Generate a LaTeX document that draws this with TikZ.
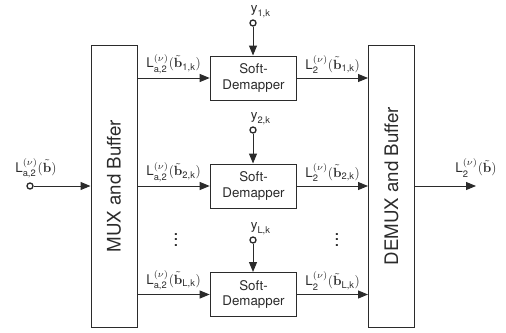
\documentclass[tikz,border=0pt]{standalone}
\usepackage{amsmath}
\usepackage[no-math]{fontspec}
\setmainfont{TeX Gyre Heros}
\setsansfont{TeX Gyre Heros}
\usepackage{tikz}
\usetikzlibrary{arrows.meta, positioning, calc}
\definecolor{linegray}{HTML}{2B2B2B}
\newcommand{\Lin}[1]{\textsf{L}^{(\nu)}_{\textsf{a,2}}(#1)}
\newcommand{\Lout}[1]{\textsf{L}^{(\nu)}_{\textsf{2}}(#1)}
\newcommand{\btil}[1]{\tilde{\mathbf{b}}_{\textsf{#1}}}
\newcommand{\yk}[1]{\textsf{y}_{\textsf{#1,k}}}

\begin{document}
\begin{tikzpicture}[x=0.75pt, y=-0.75pt, >={Triangle[length=7.5pt, width=6pt]},
    color=linegray, line width=0.75pt,
    demap/.style={draw, minimum width=65pt, minimum height=33pt, inner sep=0pt,
        align=center, font=\fontsize{10}{11.5}\selectfont},
    buffer/.style={draw, minimum width=34.5pt, minimum height=211.5pt, inner sep=0pt},
    port/.style={circle, draw, fill=white, inner sep=0pt, minimum size=4.5pt, line width=1pt},
    lbl/.style={font=\fontsize{10}{11}\selectfont, inner sep=1pt}]
    \useasboundingbox (0,0) rectangle (506,332);

    % MUX and DEMUX
    \node[buffer] (mux) at (114,186) {};
    \node[rotate=90, font=\fontsize{14}{16}\selectfont] (muxtext) at (mux.center) {MUX and Buffer};
    \node[buffer] (demux) at (391.5,186) {};
    \node[rotate=90, font=\fontsize{14}{16}\selectfont] (demuxtext) at (demux.center) {DEMUX and Buffer};

    % Soft-Demappers
    \node[demap] (sd1) at (253.5,78) {Soft-\\Demapper};
    \node[demap] (sd2) at (253.5,186) {Soft-\\Demapper};
    \node[demap] (sd3) at (253.5,294.5) {Soft-\\Demapper};

    % Channel observations
    \node[port] (y1) at (253,23) {};
    \node[port] (y2) at (253,130) {};
    \node[port] (y3) at (253,240) {};
    \node[lbl, above=0pt of y1, anchor=south west, xshift=-3pt] (y1t) {$\yk{1}$};
    \node[lbl, above=0pt of y2, anchor=south west, xshift=-3pt] (y2t) {$\yk{2}$};
    \node[lbl, above=0pt of y3, anchor=south west, xshift=-3pt] (y3t) {$\yk{L}$};
    \draw[->] (y1) -- (y1 |- sd1.north);
    \draw[->] (y2) -- (y2 |- sd2.north);
    \draw[->] (y3) -- (y3 |- sd3.north);

    % Input and output
    \node[port] (in) at (30,186) {};
    \node[lbl] (intext) at (36,168) {$\Lin{\tilde{\mathbf{b}}}$};
    \draw[->] (in) -- (in -| mux.west);
    \coordinate (out) at (476,186);
    \node[lbl] (outtext) at (476,168) {$\Lout{\tilde{\mathbf{b}}}$};
    \draw[->] (demux.east |- out) -- (out);

    % Branches
    \draw[->] (mux.east |- sd1.west) -- node[lbl, above=2pt] (a1) {$\Lin{\btil{1,k}}$} (sd1.west);
    \draw[->] (mux.east |- sd2.west) -- node[lbl, above=2pt] (a2) {$\Lin{\btil{2,k}}$} (sd2.west);
    \draw[->] (mux.east |- sd3.west) -- node[lbl, above=2pt] (a3) {$\Lin{\btil{L,k}}$} (sd3.west);
    \draw[->] (sd1.east) -- node[lbl, above=2pt] (e1) {$\Lout{\btil{1,k}}$} (sd1.east -| demux.west);
    \draw[->] (sd2.east) -- node[lbl, above=2pt] (e2) {$\Lout{\btil{2,k}}$} (sd2.east -| demux.west);
    \draw[->] (sd3.east) -- node[lbl, above=2pt] (e3) {$\Lout{\btil{L,k}}$} (sd3.east -| demux.west);

    % Dots
    \node[font=\bfseries] (ldots) at (176,236) {$\vdots$};
    \node[font=\bfseries] (rdots) at (337,236) {$\vdots$};
\end{tikzpicture}
\end{document}
